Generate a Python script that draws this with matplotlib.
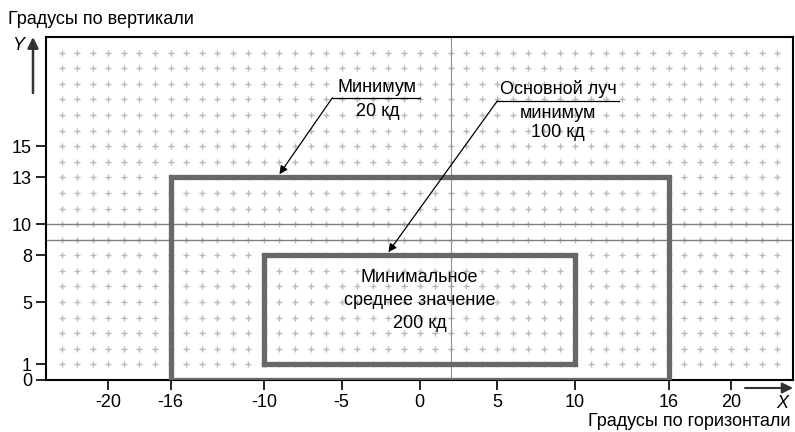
import numpy as np
import matplotlib.pyplot as plt

plt.rcParams['font.family'] = ['Liberation Sans', 'DejaVu Sans']
plt.rcParams['axes.unicode_minus'] = False

##############################################################################
# Data
##############################################################################

x_ticks = [-20, -16, -10, -5, 0, 5, 10, 16, 20]
y_ticks = [0, 1, 5, 8, 10, 13, 15]

# rectangles: (x_left, x_right, y_bottom, y_top)
outer_rect = (-16, 16, 0, 13)
inner_rect = (-10, 10, 1, 8)

h_lines = [9, 10]
v_lines = [2]

grid_x = np.arange(-23, 24)
grid_y = np.arange(1, 22)

# annotation: text lines, text x, text y, leader start, underline end, tip
min_lines = ["Минимум", "20 кд"]
min_text_x = -2.7
min_text_y = [18.75, 17.2]
min_leader = (-5.6, 18.1)
min_under_end = 0.0
min_tip = (-9, 13.2)

beam_lines = ["Основной луч", "минимум", "100 кд"]
beam_text_x = 8.9
beam_text_y = [18.65, 17.1, 15.85]
beam_leader = (5.0, 17.9)
beam_under_end = 12.8
beam_tip = (-2, 8.2)

inner_lines = ["Минимальное", "среднее значение", "200 кд"]
inner_text_y = [6.55, 5.1, 3.6]

##############################################################################
# Figure
##############################################################################

fs = 13

fig = plt.figure(figsize=(7.95, 4.32), dpi=100)
ax = fig.add_axes([46 / 795, 52 / 432, 747 / 795, 343 / 432])
ax.set_xlim(-24, 24)
ax.set_ylim(0, 22)

gx, gy = np.meshgrid(grid_x, grid_y)
ax.plot(gx.ravel(), gy.ravel(), '+', color='#b8b8b8', ms=3.8, mew=1.0, zorder=1)

for yv in h_lines:
    ax.axhline(yv, color='#808080', lw=1.0, zorder=2)
for xv in v_lines:
    ax.axvline(xv, color='#909090', lw=0.8, zorder=2)

for (x0, x1, y0, y1) in [outer_rect, inner_rect]:
    ax.plot([x0, x1, x1, x0, x0], [y0, y0, y1, y1, y0],
            color='#686868', lw=3.8, solid_joinstyle='miter', zorder=3)

# annotations
for txt, ty in zip(min_lines, min_text_y):
    ax.text(min_text_x, ty, txt, ha='center', va='center', fontsize=fs, zorder=5)
ax.plot([min_leader[0], min_under_end], [min_leader[1], min_leader[1]],
        color='black', lw=0.9, zorder=4)
ax.annotate('', xy=min_tip, xytext=min_leader,
            arrowprops=dict(arrowstyle='-|>', color='black', lw=0.9,
                            mutation_scale=12, shrinkA=0, shrinkB=0), zorder=4)

for txt, ty in zip(beam_lines, beam_text_y):
    ax.text(beam_text_x, ty, txt, ha='center', va='center', fontsize=fs, zorder=5)
ax.plot([beam_leader[0], beam_under_end], [beam_leader[1], beam_leader[1]],
        color='black', lw=0.9, zorder=4)
ax.annotate('', xy=beam_tip, xytext=beam_leader,
            arrowprops=dict(arrowstyle='-|>', color='black', lw=0.9,
                            mutation_scale=12, shrinkA=0, shrinkB=0), zorder=4)

for txt, ty in zip(inner_lines, inner_text_y):
    ax.text(0, ty, txt, ha='center', va='center', fontsize=fs, zorder=5)

# ticks and frame
ax.set_xticks(x_ticks)
ax.set_yticks(y_ticks)
ax.tick_params(direction='out', length=7, width=1.2, labelsize=fs, pad=3)
for sp in ax.spines.values():
    sp.set_linewidth(1.5)

# axis names and arrows
fig.text(8 / 795, 1 - 20 / 432, "Градусы по вертикали", fontsize=fs,
         ha='left', va='center')
fig.text(791 / 795, 1 - 421 / 432, "Градусы по горизонтали", fontsize=fs,
         ha='right', va='center')
ax.annotate('', xy=(33 / 795, 1 - 37 / 432), xytext=(33 / 795, 1 - 93 / 432),
            xycoords='figure fraction', textcoords='figure fraction',
            arrowprops=dict(arrowstyle='-|>', color='#333333', lw=1.8,
                            mutation_scale=16, shrinkA=0, shrinkB=0))
fig.text(18 / 795, 1 - 45 / 432, "Y", fontsize=fs, style='italic',
         ha='center', va='center')
ax.annotate('', xy=(793 / 795, 1 - 388 / 432), xytext=(745 / 795, 1 - 388 / 432),
            xycoords='figure fraction', textcoords='figure fraction',
            arrowprops=dict(arrowstyle='-|>', color='#333333', lw=1.5,
                            mutation_scale=16, shrinkA=0, shrinkB=0))
fig.text(782 / 795, 1 - 404 / 432, "X", fontsize=fs, style='italic',
         ha='center', va='center')

fig.savefig('out.png', dpi=100)
